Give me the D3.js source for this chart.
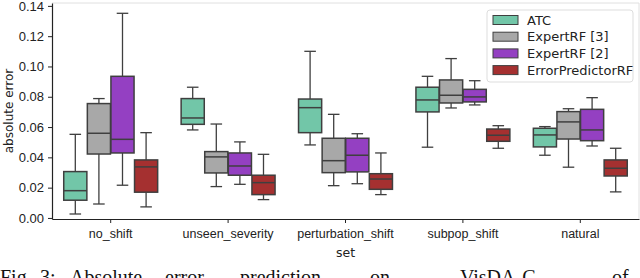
<!DOCTYPE html>
<html lang="en">
<head>
  <meta charset="UTF-8">
  <title>Absolute error box plot</title>
  <script src="https://d3js.org/d3.v7.min.js"></script>
  <style>
    html, body {
      padding: 0;
      margin: 0;
      background: #fff;
    }
    svg {
      display: block;
      font-family: "DejaVu Sans", sans-serif;
    }
  </style>
</head>
<body>
  <div id="chartDiv"></div>
  <script>
    // categories on the x axis
    var sets = ["no_shift", "unseen_severity", "perturbation_shift", "subpop_shift", "natural"];
    var methods = ["ATC", "ExpertRF [3]", "ExpertRF [2]", "ErrorPredictorRF"];
    var colors = ["#72c6a8", "#a8a8a8", "#9440c2", "#a53030"];
    var yTicks = [0.00, 0.02, 0.04, 0.06, 0.08, 0.10, 0.12, 0.14];

    // box stats per method, one entry per set: [low whisker, q1, median, q3, high whisker]
    var atc = [
      [0.0026, 0.0117, 0.0180, 0.0306, 0.0552],
      [0.0581, 0.0618, 0.0660, 0.0788, 0.0863],
      [0.0482, 0.0563, 0.0728, 0.0785, 0.1100],
      [0.0467, 0.0700, 0.0779, 0.0863, 0.0935],
      [0.0414, 0.0469, 0.0548, 0.0592, 0.0603]
    ];
    var expert3 = [
      [0.0092, 0.0422, 0.0559, 0.0755, 0.0788],
      [0.0207, 0.0297, 0.0403, 0.0438, 0.0620],
      [0.0213, 0.0299, 0.0378, 0.0526, 0.0684],
      [0.0726, 0.0759, 0.0810, 0.0911, 0.1052],
      [0.0335, 0.0521, 0.0634, 0.0702, 0.0721]
    ];
    var expert2 = [
      [0.0216, 0.0429, 0.0519, 0.0935, 0.1351],
      [0.0222, 0.0282, 0.0343, 0.0429, 0.0502],
      [0.0226, 0.0304, 0.0414, 0.0526, 0.0556],
      [0.0746, 0.0766, 0.0799, 0.0849, 0.0906],
      [0.0475, 0.0510, 0.0581, 0.0717, 0.0794]
    ];
    var errPred = [
      [0.0073, 0.0170, 0.0337, 0.0383, 0.0563],
      [0.0121, 0.0154, 0.0233, 0.0282, 0.0420],
      [0.0154, 0.0189, 0.0257, 0.0292, 0.0429],
      [0.0460, 0.0506, 0.0546, 0.0587, 0.0609],
      [0.0172, 0.0277, 0.0328, 0.0383, 0.0460]
    ];
    var seriesStats = [atc, expert3, expert2, errPred];

    // caption words (only their top half shows in the picture)
    var captionWords = ["Fig.", "3:", "Absolute", "error", "prediction", "on", "VisDA-C", "of"];

    var width = 640, height = 278;
    var plotLeft = 52, plotRight = 639, plotTop = 3, plotBottom = 219;

    var svg = d3.select("#chartDiv").append("svg")
      .attr("width", width)
      .attr("height", height);

    var x = d3.scaleBand().domain(sets).range([plotLeft, plotRight]).paddingInner(0.2).paddingOuter(0.1);
    var xInner = d3.scaleBand().domain(methods).range([0, x.bandwidth()]).paddingInner(0.02);
    var y = d3.scaleLinear().domain([-0.0007, 0.1419]).range([plotBottom, plotTop]);

    // light frame on top / right
    svg.append("path")
      .attr("d", `M${plotLeft},${plotTop}H${plotRight}V${plotBottom}`)
      .attr("fill", "none")
      .attr("stroke", "#e0e0e0")
      .attr("stroke-width", 1);

    var edge = "#3f3f3f";

    seriesStats.forEach(function(stats, si) {
      var g = svg.append("g");
      stats.forEach(function(s, ci) {
        var x0 = x(sets[ci]) + xInner(methods[si]);
        var w = xInner.bandwidth();
        var cx = x0 + w / 2;
        // whiskers
        g.append("line").attr("x1", cx).attr("x2", cx).attr("y1", y(s[3])).attr("y2", y(s[4]))
          .attr("stroke", edge).attr("stroke-width", 1.3);
        g.append("line").attr("x1", cx).attr("x2", cx).attr("y1", y(s[1])).attr("y2", y(s[0]))
          .attr("stroke", edge).attr("stroke-width", 1.3);
        g.append("line").attr("x1", cx - w / 4).attr("x2", cx + w / 4).attr("y1", y(s[4])).attr("y2", y(s[4]))
          .attr("stroke", edge).attr("stroke-width", 1.3);
        g.append("line").attr("x1", cx - w / 4).attr("x2", cx + w / 4).attr("y1", y(s[0])).attr("y2", y(s[0]))
          .attr("stroke", edge).attr("stroke-width", 1.3);
        // box
        g.append("rect")
          .attr("x", x0).attr("width", w)
          .attr("y", y(s[3])).attr("height", y(s[1]) - y(s[3]))
          .attr("fill", colors[si])
          .attr("stroke", edge).attr("stroke-width", 1.5);
        // median
        g.append("line").attr("x1", x0).attr("x2", x0 + w).attr("y1", y(s[2])).attr("y2", y(s[2]))
          .attr("stroke", edge).attr("stroke-width", 1.5);
      });
    });

    // axes
    var yAxis = svg.append("g")
      .attr("transform", `translate(${plotLeft},0)`)
      .call(d3.axisLeft(y).tickValues(yTicks).tickFormat(d3.format(".2f")).tickSize(4).tickSizeOuter(0));
    yAxis.select(".domain").attr("stroke", "#222").attr("stroke-width", 1.2);
    yAxis.selectAll("text").attr("font-size", 13).attr("fill", "#222").attr("dx", "-1");
    yAxis.selectAll(".tick line").attr("stroke", "#222");

    var xAxis = svg.append("g")
      .attr("transform", `translate(0,${plotBottom})`)
      .call(d3.axisBottom(x).tickSize(4).tickSizeOuter(0));
    xAxis.select(".domain").attr("stroke", "#222").attr("stroke-width", 1.2);
    xAxis.selectAll("text").attr("font-size", 12.5).attr("fill", "#222").attr("dy", "0.95em");
    xAxis.selectAll(".tick line").attr("stroke", "#222");

    // axis titles
    svg.append("text")
      .attr("transform", `translate(13,${(plotTop + plotBottom) / 2}) rotate(-90)`)
      .attr("text-anchor", "middle")
      .attr("font-size", 12)
      .attr("fill", "#222")
      .text("absolute error");
    svg.append("text")
      .attr("x", (plotLeft + plotRight) / 2)
      .attr("y", 257)
      .attr("text-anchor", "middle")
      .attr("font-size", 12.5)
      .attr("fill", "#222")
      .text("set");

    // legend
    var lg = svg.append("g").attr("transform", "translate(487,10)");
    lg.append("rect")
      .attr("width", 146).attr("height", 72).attr("rx", 3)
      .attr("fill", "#fff").attr("fill-opacity", 0.85)
      .attr("stroke", "#ddd");
    methods.forEach(function(m, i) {
      var row = lg.append("g").attr("transform", `translate(6,${10 + i * 16.7})`);
      row.append("rect").attr("x", 0).attr("y", -4.5).attr("width", 25).attr("height", 9)
        .attr("fill", colors[i]).attr("stroke", edge).attr("stroke-width", 1);
      row.append("text").attr("x", 34).attr("y", 0).attr("dy", "0.35em")
        .attr("font-size", 13).attr("fill", "#222").text(m);
    });

    // caption, cut by the bottom edge; words spread across the width
    var cap = svg.append("text")
      .attr("y", 284)
      .attr("font-family", "'Liberation Serif', 'DejaVu Serif', serif")
      .attr("font-size", 20)
      .attr("fill", "#111");
    var capStarts = [0, 40, 70, 165, 240, 370, 460, 612];
    captionWords.forEach(function(wd, i) {
      cap.append("tspan").attr("x", capStarts[i]).text(wd);
    });
  </script>
</body>
</html>
